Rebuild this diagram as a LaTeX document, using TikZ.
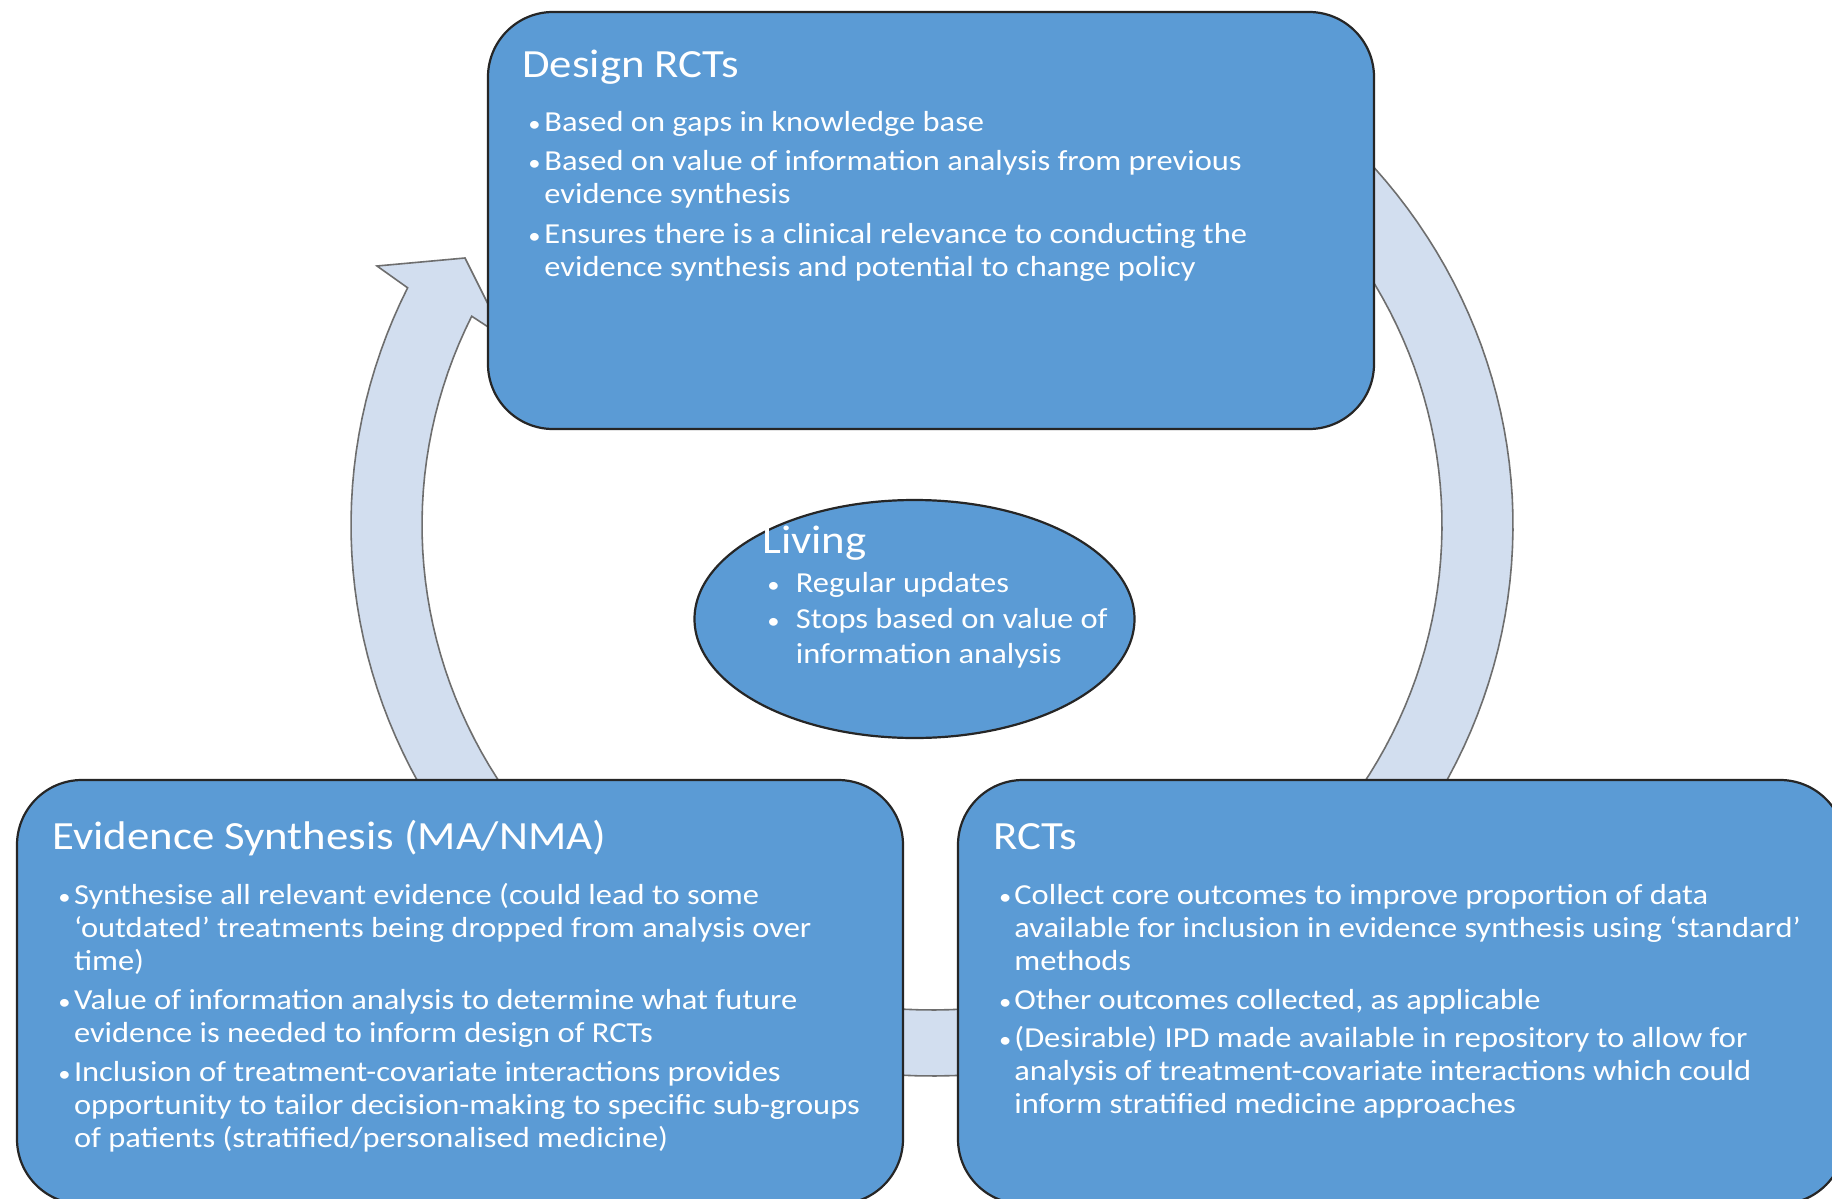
\documentclass[tikz,border=0pt]{standalone}
\usepackage{fontspec}
\newfontfamily\body[FakeStretch=1.12]{Carlito}
\definecolor{boxblue}{HTML}{5B9BD5}
\definecolor{ringfill}{HTML}{D2DEEF}
\definecolor{ringgray}{HTML}{6E6E6E}
\newcommand{\mlines}[1]{\begin{tabular}[t]{@{}l@{}}#1\end{tabular}}
\tikzset{
  box/.style={draw=black!85, line width=1.1pt, fill=boxblue, rounded corners=32.5pt, inner sep=0pt},
  oval/.style={draw=black!85, line width=1.1pt, fill=boxblue, ellipse, inner sep=0pt},
  ringshape/.style={draw=ringgray, line width=0.8pt, fill=ringfill},
  ttl/.style={anchor=base west, inner sep=0pt, text=white, font=\body\fontsize{20}{24}\selectfont},
  txt/.style={anchor=base west, inner sep=0pt, text=white, font=\body\fontsize{14.5}{16.5}\selectfont},
  etxt/.style={anchor=base west, inner sep=0pt, text=white, font=\body\fontsize{14.5}{17.5}\selectfont},
  bul/.style={anchor=base west, inner sep=0pt, text=white, font=\body\fontsize{11}{16.5}\selectfont},
}
\usetikzlibrary{shapes.geometric}
\begin{document}
\begin{tikzpicture}[x=0.5pt,y=-0.5pt]
\path[fill=white, use as bounding box] (0,0) rectangle (1832,1199);
% cycle ring with arrow head
\draw[ringshape] plot[domain=-60:205.5, samples=150] ({932+581*cos(\x)},{525+551*sin(\x)})
  -- (377,266) -- (465,258) -- (505,338)
  -- plot[domain=205.5:-60, samples=150] ({932+510*cos(\x)},{525+485*sin(\x)}) -- cycle;
% boxes
\node[box, minimum width=443pt, minimum height=208.5pt] (top) at (931,220.5) {};
\node[box, minimum width=443pt, minimum height=212pt] (left) at (460,992) {};
\node[box, minimum width=443.5pt, minimum height=212pt] (right) at (1401.5,992) {};
\node[oval, minimum width=220pt, minimum height=119pt] (living) at (914.5,619) {};
% top box text
\node[ttl] (t0) at (522,77) {Design RCTs};
\node[bul] (tb1) at (528,131) {•};
\node[txt] (t1) at (544,131) {Based on gaps in knowledge base};
\node[bul] (tb2) at (528,170.5) {•};
\node[txt] (t2) at (544,170.5) {\mlines{Based on value of information analysis from previous\\evidence synthesis}};
\node[bul] (tb3) at (528,243) {•};
\node[txt] (t3) at (544,243) {\mlines{Ensures there is a clinical relevance to conducting the\\evidence synthesis and potential to change policy}};
% left box text
\node[ttl] (l0) at (52,849) {Evidence Synthesis (MA/NMA)};
\node[bul] (lb1) at (58,904) {•};
\node[txt] (l1) at (73.6,904) {\mlines{Synthesise all relevant evidence (could lead to some\\‘outdated’ treatments being dropped from analysis over\\time)}};
\node[bul] (lb2) at (58,1009) {•};
\node[txt] (l2) at (73.6,1009) {\mlines{Value of information analysis to determine what future\\evidence is needed to inform design of RCTs}};
\node[bul] (lb3) at (58,1081.6) {•};
\node[txt] (l3) at (73.6,1081.6) {\mlines{Inclusion of treatment-covariate interactions provides\\opportunity to tailor decision-making to specific sub-groups\\of patients (stratified/personalised medicine)}};
% right box text
\node[ttl] (r0) at (993,849) {RCTs};
\node[bul] (rb1) at (998.6,904) {•};
\node[txt] (r1) at (1014,904) {\mlines{Collect core outcomes to improve proportion of data\\available for inclusion in evidence synthesis using ‘standard’\\methods}};
\node[bul] (rb2) at (998.6,1009) {•};
\node[txt] (r2) at (1014,1009) {Other outcomes collected, as applicable};
\node[bul] (rb3) at (998.6,1047.5) {•};
\node[txt] (r3) at (1014,1047.5) {\mlines{(Desirable) IPD made available in repository to allow for\\analysis of treatment-covariate interactions which could\\inform stratified medicine approaches}};
% ellipse text
\node[ttl] (e0) at (762,553) {Living};
\node[bul] (eb1) at (767,592) {•};
\node[etxt] (e1) at (795.5,592) {Regular updates};
\node[bul] (eb2) at (767,628) {•};
\node[etxt] (e2) at (795.5,628) {\mlines{Stops based on value of\\information analysis}};
\end{tikzpicture}
\end{document}
